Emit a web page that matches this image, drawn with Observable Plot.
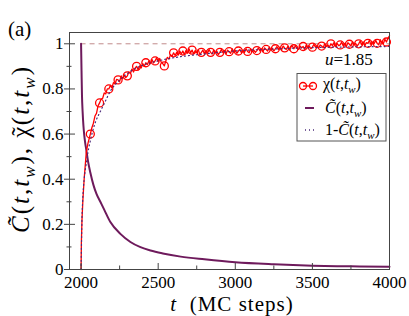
<!DOCTYPE html>
<html><head><meta charset="utf-8">
<script src="https://cdn.jsdelivr.net/npm/d3@7"></script>
<script src="https://cdn.jsdelivr.net/npm/@observablehq/plot@0.6"></script>
<style>html,body{margin:0;padding:0;background:#fff;}
svg text, svg tspan{font-family:'Liberation Serif','Times New Roman',serif !important;}</style>
</head><body><div id="chart"></div>
<script>
// ---- data ----
const cT = [2000,2003,2006,2010,2015,2020,2027,2034,2045,2060,2080,2100,2125,2150,2190,2255,2320,2385,2450,2530,2646,2800,3000,3250,3500,3750,4000];
const cV = [1.0,0.88,0.77,0.70,0.64,0.60,0.56,0.53,0.48,0.43,0.375,0.335,0.30,0.265,0.21,0.158,0.122,0.099,0.084,0.071,0.057,0.045,0.032,0.023,0.017,0.014,0.012];

const chiT = [2000,2002,2006,2012,2020,2034,2045,
2060,2070,2080,2090,2100,2110,2120,2130,2140,2150,2160,2170,2180,2190,2200,2210,2220,2230,2240,2250,2260,2270,2280,2290,
2300,2310,2320,2330,2340,2350,2360,2370,2380,2390,2400,2410,2420,2430,2440,2450,2460,2470,2480,2490,
2500,2510,2520,2530,2540,2550,2560,2570,2580,2590,2600,2610,2620,2630,2640,2650,2660,2670,2680,2690,
2700,2710,2720,2730,2740,2750,2760,2770,2780,2790,2800,2810,2820,2830,2840,2850,2860,2870,2880,2890,
2900,2910,2920,2930,2940,2950,2960,2970,2980,2990,3000,3010,3020,3030,3040,3050,3060,3070,3080,3090,
3100,3110,3120,3130,3140,3150,3160,3170,3180,3190,3200,3210,3220,3230,3240,3250,3260,3270,3280,3290,
3300,3310,3320,3330,3340,3350,3360,3370,3380,3390,3400,3410,3420,3430,3440,3450,3460,3470,3480,3490,
3500,3510,3520,3530,3540,3550,3560,3570,3580,3590,3600,3610,3620,3630,3640,3650,3660,3670,3680,3690,
3700,3710,3720,3730,3740,3750,3760,3770,3780,3790,3800,3810,3820,3830,3840,3850,3860,3870,3880,3890,
3900,3910,3920,3930,3940,3950,3960,3970,3980,3990,4000];
const chiV = [0,0.12,0.22,0.31,0.40,0.52,0.56,
0.600,0.628,0.648,0.680,0.692,0.725,0.738,0.755,0.758,0.782,0.778,0.800,0.800,0.815,0.805,0.828,0.822,0.842,0.840,0.832,0.858,0.845,0.862,0.850,
0.858,0.875,0.868,0.888,0.875,0.892,0.900,0.885,0.902,0.893,0.912,0.900,0.916,0.908,0.925,0.912,0.930,0.915,0.924,0.938,
0.922,0.935,0.918,0.912,0.902,0.925,0.940,0.932,0.952,0.945,0.960,0.948,0.962,0.950,0.968,0.955,0.968,0.952,0.970,0.958,
0.978,0.960,0.972,0.955,0.970,0.960,0.975,0.952,0.962,0.972,0.955,0.970,0.958,0.975,0.962,0.955,0.972,0.960,0.968,0.952,
0.962,0.975,0.960,0.970,0.955,0.972,0.965,0.958,0.978,0.962,0.970,0.958,0.968,0.975,0.960,0.972,0.962,0.978,0.966,0.960,
0.978,0.965,0.972,0.962,0.970,0.982,0.968,0.978,0.965,0.982,0.975,0.968,0.985,0.972,0.980,0.968,0.978,0.988,0.975,0.985,
0.972,0.990,0.982,0.975,0.988,0.972,0.985,0.990,0.978,0.992,0.980,0.975,0.990,0.982,0.988,0.975,0.995,0.982,0.990,0.978,
0.985,0.998,0.985,0.992,0.980,0.995,0.990,0.982,1.000,0.988,0.995,0.985,1.000,0.992,1.005,0.988,1.002,0.992,0.995,1.008,
0.990,1.002,0.988,1.005,0.998,0.990,1.010,0.995,1.002,0.990,1.000,1.012,0.995,1.008,0.992,1.005,1.002,1.015,0.995,1.008,
1.000,1.015,1.002,0.995,1.018,1.005,1.000,1.020,1.008,1.025,1.035];

const xMajor = [2000,2500,3000,3500,4000];
const xMinor = [2250,2750,3250,3750];
const yMajor = [0,0.2,0.4,0.6,0.8,1];
const yMinor = [0.1,0.3,0.5,0.7,0.9];
const uLabel = "1.85";

// ---- layout ----
const W = 409, H = 316, mL = 69, mR = 20, mT = 32, mB = 47;
const xMin = 1925, xMax = 4000, yMin = 0, yMax = 1.05;
const ux = (xMax - xMin) / (W - mL - mR);
const uy = (yMax - yMin) / (H - mT - mB);

const cData = cT.map((t, i) => ({t, v: cV[i]}));
const oneMinusC = cT.map((t, i) => ({t, v: 1 - cV[i]}));
const chiData = chiT.map((t, i) => ({t, v: chiV[i]}));
const circleData = chiData.filter(d => d.t >= 2060 && (d.t - 2060) % 60 === 0);

const RED = "#ff0000", PURPLE = "#6e1a5c", DOT = "#4b2a7a";
const FONT = "'Liberation Serif','Times New Roman',serif";

const svg = Plot.plot({
  width: W, height: H,
  marginLeft: mL, marginRight: mR, marginTop: mT, marginBottom: mB,
  style: {background: "white", color: "black"},
  x: {domain: [xMin, xMax]},
  y: {domain: [yMin, yMax]},
  marks: [
    Plot.ruleY([1], {x1: 2000, x2: 4000, stroke: "#c08a8a", strokeDasharray: "5,4", strokeWidth: 1}),
    Plot.line(cData, {x: "t", y: "v", stroke: PURPLE, strokeWidth: 2, curve: "monotone-x"}),
    Plot.line(chiData, {x: "t", y: "v", stroke: RED, strokeWidth: 1.3}),
    Plot.dot(circleData, {x: "t", y: "v", r: 4, stroke: RED, strokeWidth: 1.3, fill: "none"}),
    Plot.line(oneMinusC, {x: "t", y: "v", stroke: DOT, strokeWidth: 1.2, strokeDasharray: "1,3", curve: "monotone-x"}),
    Plot.frame({stroke: "#444"}),
    Plot.ruleX(xMajor, {x: d => d, y1: 0, y2: 6 * uy, stroke: "#444"}),
    Plot.ruleX(xMinor, {x: d => d, y1: 0, y2: 3.5 * uy, stroke: "#444"}),
    Plot.ruleY(yMajor, {y: d => d, x1: xMin - 5 * ux, x2: xMin + 6 * ux, stroke: "#444"}),
    Plot.ruleY(yMinor, {y: d => d, x1: xMin - 2.5 * ux, x2: xMin + 2.5 * ux, stroke: "#444"}),
    Plot.axisX({ticks: xMajor, tickSize: 0, tickPadding: 6, fontSize: 17, label: null, tickFormat: d => String(d), fill: "black"}),
    Plot.axisY({ticks: yMajor, tickSize: 0, tickPadding: 6, fontSize: 17, label: null, tickFormat: d => (d === 0 || d === 1) ? String(d) : d.toFixed(1), fill: "black"})
  ]
});

// ---- rich text helpers ----
const root = d3.select(svg);
function rich(g, parts, size) {
  let shifted = false;
  parts.forEach(p => {
    const ts = g.append("tspan").text(p.s);
    if (p.i) ts.attr("font-style", "italic");
    let dy = 0;
    if (p.sub) { ts.attr("font-size", size * 0.68); dy += size * 0.25; shifted = true; }
    else if (shifted) { dy -= size * 0.25; shifted = false; }
    if (dy) ts.attr("dy", dy);
    if (p.dx) ts.attr("dx", p.dx * size);
  });
  return g;
}
const tw = (pre) => [...pre, {s: "("}, {s: "t", i: true}, {s: ","}, {s: "t", i: true}, {s: "w", i: true, sub: true}, {s: ")"}];
const Ct = [{s: "C\u0303", i: true}];
const chiTilde = [{s: "\u03C7"}, {s: "\u02DC", dx: -0.44}];
const addText = (x, y, size, anchor) => root.append("text").attr("x", x).attr("y", y)
  .attr("font-size", size).attr("text-anchor", anchor || "start").style("font-family", FONT);

// panel label
addText(8, 36, 21).text("(a)");

// u label
rich(addText(325, 65, 17), [{s: "u", i: true}, {s: "=" + uLabel}], 17);

// y label
rich(root.append("text").attr("transform", "translate(29,149) rotate(-90)").attr("text-anchor", "middle")
  .attr("font-size", 25).attr("letter-spacing", 2).style("font-family", FONT),
  [...tw(Ct), {s: ", "}, ...tw([...chiTilde, {s: "", dx: 0}])], 25);

// x label
rich(addText(232, 311, 21, "middle").attr("letter-spacing", 1),
  [{s: "t", i: true}, {s: "\u00A0\u00A0(MC steps)"}], 21);

// legend
const lg = root.append("g");
lg.append("rect").attr("x", 297).attr("y", 73.5).attr("width", 89).attr("height", 67.5).attr("fill", "white").attr("stroke", "#555");
lg.append("line").attr("x1", 303).attr("x2", 313).attr("y1", 86).attr("y2", 86).attr("stroke", RED).attr("stroke-width", 1.3);
[303, 313].forEach(cx => lg.append("circle").attr("cx", cx).attr("cy", 86).attr("r", 3.5).attr("fill", "none").attr("stroke", RED).attr("stroke-width", 1.3));
lg.append("line").attr("x1", 305).attr("x2", 314).attr("y1", 108).attr("y2", 108).attr("stroke", PURPLE).attr("stroke-width", 2);
lg.append("line").attr("x1", 305).attr("x2", 315).attr("y1", 130).attr("y2", 130).attr("stroke", DOT).attr("stroke-width", 1.3).attr("stroke-dasharray", "1,3");
rich(addText(323, 89, 16), tw([{s: "\u03C7"}]), 16);
rich(addText(325, 113, 16), tw(Ct), 16);
rich(addText(325, 135, 16), [{s: "1-"}, ...tw(Ct)], 16);

root.selectAll("text").style("font-family", FONT);
document.getElementById("chart").appendChild(svg);
</script>
</body></html>
